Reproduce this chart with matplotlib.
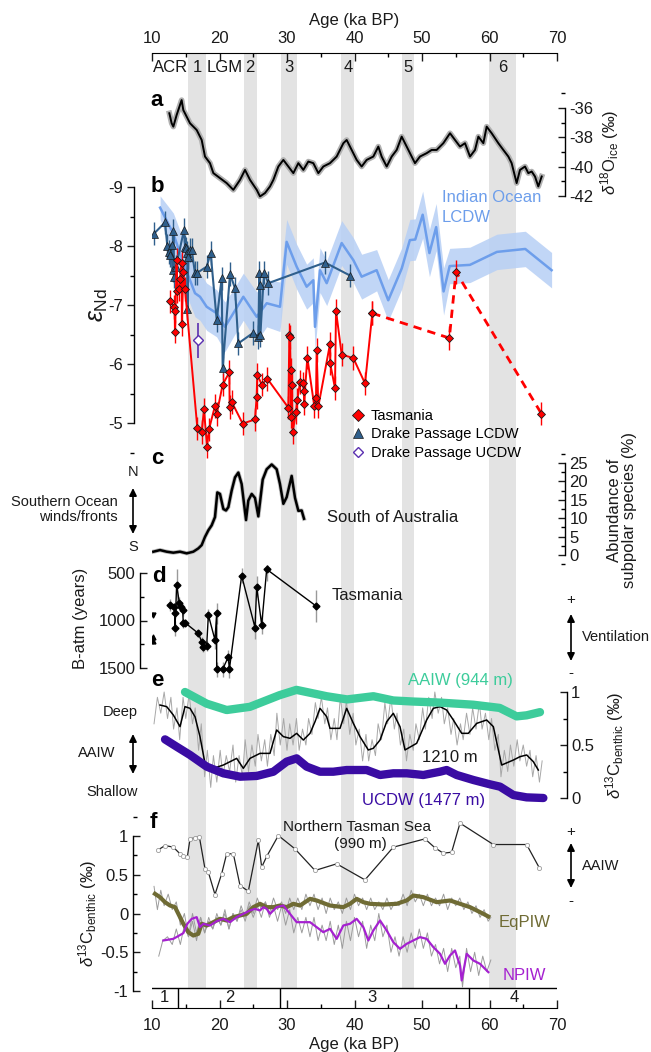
import matplotlib
matplotlib.use('Agg')
import matplotlib.pyplot as plt
from matplotlib.ticker import MultipleLocator, FuncFormatter
from matplotlib.lines import Line2D

plt.rcParams['font.family'] = ['Liberation Sans', 'DejaVu Sans']
plt.rcParams['mathtext.fontset'] = 'custom'
plt.rcParams['mathtext.rm'] = 'Liberation Sans'
plt.rcParams['mathtext.it'] = 'Liberation Sans:italic'
plt.rcParams['mathtext.bf'] = 'Liberation Sans:bold'
plt.rcParams['axes.unicode_minus'] = False

# ---------------- DATA ----------------
bands = [(15.3, 18.0), (23.6, 25.6), (29.1, 31.5), (38.0, 39.9), (47.0, 48.8), (59.9, 63.9)]
band_labels = ['ACR', '1', 'LGM', '2', '3', '4', '5', '6']
band_label_ages = [12.8, 16.7, 20.7, 24.5, 30.3, 39.0, 47.9, 61.9]
stage_bounds = [13.85, 28.9, 57.0]
stage_labels = ['1', '2', '3', '4']
stage_label_ages = [11.9, 21.5, 42.6, 63.6]

# (a) ice core d18O
a_age = [12.57, 12.91, 13.16, 13.65, 14.39, 14.64, 15.63, 16.62, 17.36, 17.85, 18.59, 19.09, 20.07, 21.06,
         22.05, 23.04, 23.78, 24.52, 25.51, 26.0, 26.74, 27.48, 27.98, 28.72, 29.46, 30.2, 30.94, 31.68,
         32.42, 33.16, 33.9, 34.64, 35.38, 36.37, 37.36, 38.35, 38.84, 39.58, 40.32, 41.06, 41.8, 42.79,
         43.53, 44.02, 44.77, 45.51, 46.25, 46.99, 47.73, 48.47, 48.96, 49.7, 50.69, 51.43, 52.17, 53.16,
         54.15, 54.89, 55.63, 56.37, 57.11, 57.85, 58.35, 59.09, 59.58, 60.32, 61.31, 62.05, 62.79, 63.28,
         64.02, 64.52, 65.26, 65.75, 66.25, 66.74, 67.23, 67.73]
a_d18o = [-36.36, -37.04, -37.27, -36.48, -35.46, -36.14, -37.04, -37.50, -38.18, -39.31, -39.76, -40.44,
          -40.78, -41.12, -41.58, -40.90, -40.22, -40.90, -41.58, -42.03, -41.80, -41.35, -40.90, -39.99,
          -39.54, -39.99, -40.44, -39.76, -40.22, -39.65, -39.76, -40.44, -39.99, -39.76, -39.31, -38.40,
          -38.18, -38.86, -39.54, -39.99, -39.54, -39.31, -38.63, -39.31, -39.99, -39.31, -38.86, -37.95,
          -38.63, -39.31, -39.76, -39.31, -39.08, -38.86, -38.86, -38.40, -37.72, -38.18, -38.63, -38.40,
          -39.31, -38.86, -37.95, -38.40, -37.27, -37.72, -38.40, -38.86, -39.31, -39.76, -41.12, -40.22,
          -39.99, -40.44, -40.33, -40.67, -41.35, -40.67]

# (b) eNd
io_age = [11.2, 13.16, 14.64, 15.63, 16.37, 17.11, 18.10, 19.58, 20.81, 22.05, 23.53, 25.51, 26.99, 28.96,
          29.95, 31.43, 32.91, 33.9, 34.15, 34.89, 35.88, 38.10, 39.83, 41.06, 43.28, 45.0, 47.0, 48.2,
          49.0, 50.1, 51.1, 52.1, 53.2, 54.1, 57.1, 61.1, 65.3, 69.2]
io_end = [-8.65, -8.21, -7.71, -7.42, -7.20, -7.14, -6.97, -6.86, -6.63, -6.86, -7.14, -6.80, -7.03, -6.97,
          -8.07, -7.65, -7.31, -7.42, -6.63, -7.59, -7.37, -8.05, -7.76, -7.48, -7.59, -7.08, -7.62, -8.10,
          -8.11, -8.53, -7.88, -8.32, -7.23, -7.66, -7.68, -7.90, -7.95, -7.59]
io_unc = [0.2, 0.35, 0.4, 0.4, 0.4, 0.4, 0.4, 0.4, 0.42, 0.4, 0.4, 0.42, 0.4, 0.42, 0.38, 0.38, 0.38, 0.38,
          0.4, 0.38, 0.38, 0.38, 0.38, 0.38, 0.35, 0.35, 0.35, 0.35, 0.35, 0.4, 0.4, 0.4, 0.4, 0.3, 0.3,
          0.3, 0.3, 0.3]

dl_age = [10.30, 11.93, 12.27, 12.47, 12.67, 12.91, 13.06, 13.16, 13.31, 13.56, 14.74, 14.89, 15.04, 15.23,
          15.25, 15.38, 15.63, 15.88, 16.37, 16.62, 18.10, 18.69, 19.58, 20.32, 20.47, 21.56, 22.30, 22.79,
          25.01, 25.75, 25.90, 26.00, 26.05, 26.59, 27.23, 35.63, 39.33]
dl_end = [-8.21, -8.40, -8.00, -7.90, -7.85, -8.02, -7.59, -8.25, -7.48, -7.65, -8.27, -7.99, -7.96, -7.88,
          -6.94, -7.81, -7.93, -7.93, -7.54, -7.54, -7.65, -7.88, -6.75, -7.45, -5.93, -7.53, -7.28, -6.35,
          -6.53, -6.46, -7.54, -7.34, -6.49, -7.55, -7.37, -7.72, -7.50]

tas_age = [12.67, 13.31, 13.36, 13.40, 13.65, 13.75, 13.95, 14.15, 14.40, 14.42, 14.64, 14.89, 16.72,
           17.36, 17.70, 18.15, 18.44, 19.33, 19.58, 20.47, 21.46, 21.50, 21.80, 23.43, 25.26, 25.50, 25.60,
           26.25, 27.09, 30.20, 30.35, 30.44, 30.54, 30.55, 30.74, 30.84, 31.33, 31.53, 31.93, 32.32, 32.52,
           32.53, 33.01, 34.05, 34.30, 34.39, 34.64, 36.37, 36.40, 37.11, 37.26, 38.10, 39.83, 41.56, 42.64]
tas_end = [-7.06, -6.97, -6.89, -6.55, -7.76, -7.24, -7.27, -7.44, -7.71, -6.68, -7.56, -7.27, -4.91, -4.85,
           -5.23, -4.60, -4.89, -5.29, -5.15, -5.65, -5.86, -5.27, -5.36, -4.99, -5.06, -5.44, -5.82, -5.65,
           -5.75, -5.26, -6.49, -6.46, -5.90, -5.11, -5.64, -4.85, -5.18, -5.39, -5.69, -5.67, -5.55, -5.33,
           -6.11, -5.28, -5.43, -6.24, -5.28, -6.34, -6.01, -5.59, -6.90, -6.16, -6.10, -5.67, -6.86]
tas_old_age = [42.64, 54.05, 55.04, 67.68]
tas_old_end = [-6.86, -6.44, -7.56, -5.16]
ucdw_age = [16.86]
ucdw_end = [-6.40]

# (c) subpolar species abundance
c_age = [10.2, 11.19, 12.17, 13.16, 14.15, 15.14, 16.12, 16.86, 17.36, 17.85, 18.35, 18.84, 19.33, 19.68,
         20.07, 20.57, 20.96, 21.31, 21.8, 22.3, 22.79, 23.28, 23.93, 24.27, 24.77, 25.26, 25.75, 26.4,
         26.99, 27.73, 28.47, 28.96, 29.46, 29.95, 30.69, 31.19, 31.68, 32.17, 32.52]
c_abund = [0.9, 1.34, 0.9, 0.63, 0.9, 0.45, 0.9, 1.79, 2.69, 4.93, 6.72, 8.06, 10.3, 17.0, 16.6, 12.5, 12.1,
           13.0, 17.5, 21.1, 22.4, 19.3, 9.5, 14.8, 16.6, 15.5, 10.5, 20.5, 23.3, 24.6, 23.3, 19.3, 13.9,
           15.7, 21.5, 15.5, 12.0, 12.1, 9.86]

# (d) B-atm Tasmania
d_age = [12.67, 13.31, 13.41, 13.41, 13.65, 14.05, 14.25, 14.54, 14.64, 14.89, 16.86, 17.36, 17.60, 18.10,
         18.35, 19.33, 19.58, 19.58, 20.47, 21.31, 21.46, 23.28, 25.26, 25.51, 26.25, 26.99, 34.30]
d_batm = [837, 855, 924, 1082, 626, 812, 855, 889, 1030, 1023, 1135, 1223, 1276, 1268, 942, 1205, 924, 1514,
          1514, 1381, 1514, 528, 1075, 644, 1047, 461, 847]
d_err = [60, 40, 50, 80, 170, 60, 50, 60, 50, 40, 40, 50, 60, 50, 60, 100, 110, 80, 80, 70, 90, 80, 120,
         110, 100, 120, 170]
d_other_age = [10.1, 10.1, 10.1]
d_other = [942, 1170, 1218]

# (e) d13C benthic
aaiw_age = [14.89, 18.1, 21.06, 24.5, 28.9, 31.4, 35.88, 38.9, 42.8, 45.75, 48.7, 52.67, 57.6, 61.5, 64.02,
            65.5, 67.48]
aaiw_d13c = [1.00, 0.89, 0.83, 0.86, 0.97, 1.02, 0.96, 0.93, 0.96, 0.92, 0.91, 0.90, 0.88, 0.85, 0.77, 0.78,
             0.81]
ucdwe_age = [11.93, 13.65, 15.63, 18.1, 20.57, 23.04, 25.51, 27.98, 29.95, 31.43, 32.91, 34.89, 36.86,
             38.84, 41.8, 43.78, 45.75, 47.73, 50.2, 52.67, 53.65, 55.14, 57.6, 60.07, 61.56, 63.53, 65.5, 67.98]
ucdwe_d13c = [0.553, 0.484, 0.406, 0.296, 0.233, 0.201, 0.208, 0.248, 0.343, 0.374, 0.296, 0.248, 0.248,
              0.264, 0.264, 0.217, 0.233, 0.233, 0.217, 0.248, 0.264, 0.217, 0.170, 0.129, 0.107, 0.028,
              0.006, 0.0]
m1210_age = [11.19, 12.17, 13.16, 14.15, 14.89, 15.63, 16.37, 17.11, 17.85, 19.09, 20.57, 22.05, 22.54, 23.53,
             24.52, 26.0, 27.48, 28.47, 29.46, 30.44, 31.43, 32.42, 33.41, 34.15, 34.89, 35.88, 36.37, 37.85,
             38.84, 39.83, 40.81, 42.05, 42.79, 43.78, 44.77, 45.75, 46.74, 47.48, 49.21, 50.69, 51.68, 52.67,
             53.65, 54.64, 55.88, 56.86, 58.1, 59.58, 60.57, 61.8, 63.53, 64.52, 65.51, 66.49, 67.23]
m1210_d13c = [0.877, 0.862, 0.783, 0.673, 0.862, 0.846, 0.767, 0.579, 0.327, 0.280, 0.311, 0.358, 0.374,
              0.280, 0.374, 0.421, 0.421, 0.642, 0.579, 0.563, 0.610, 0.547, 0.610, 0.720, 0.846, 0.767,
              0.657, 0.657, 0.846, 0.704, 0.579, 0.453, 0.469, 0.547, 0.720, 0.799, 0.673, 0.453, 0.516,
              0.736, 0.846, 0.862, 0.830, 0.736, 0.610, 0.610, 0.704, 0.736, 0.673, 0.311, 0.358, 0.390,
              0.406, 0.343, 0.264]
raw1210_age = [10.3, 10.8, 11.3, 11.8, 12.3, 12.8, 13.2, 13.7, 14.1, 14.6, 15.0, 15.5, 16.0, 16.4, 16.9, 17.3,
               17.8, 18.2, 18.7, 19.1, 19.6, 20.1, 20.5, 21.0, 21.5, 22.0, 22.4, 22.9, 23.4, 23.8, 24.3, 24.8,
               25.3, 25.7, 26.2, 26.7, 27.1, 27.6, 28.1, 28.5, 29.0, 29.5, 30.0, 30.4, 30.9, 31.4, 31.8, 32.3,
               32.8, 33.2, 33.7, 34.2, 34.6, 35.1, 35.6, 36.0, 36.5, 37.0, 37.4, 37.9, 38.4, 38.8, 39.3, 39.8,
               40.2, 40.7, 41.2, 41.7, 42.1, 42.6, 43.1, 43.5, 44.0, 44.5, 44.9, 45.4, 45.9, 46.3, 46.8, 47.3,
               47.7, 48.2, 48.7, 49.1, 49.6, 50.1, 50.5, 51.0, 51.5, 51.9, 52.4, 52.9, 53.3, 53.8, 54.3, 54.7,
               55.2, 55.7, 56.1, 56.6, 57.1, 57.5, 58.0, 58.5, 58.9, 59.4, 59.9, 60.3, 60.8, 61.3, 61.7, 62.2,
               62.7, 63.1, 63.6, 64.1, 64.5, 65.0, 65.5, 66.0, 66.4, 66.9, 67.4, 67.8]
raw1210_d13c = [0.70, 0.95, 0.80, 1.00, 0.75, 0.95, 0.65, 0.85, 0.55, 0.95, 0.75, 0.98, 0.70, 0.85, 0.45,
                0.70, 0.20, 0.45, 0.10, 0.40, 0.15, 0.45, 0.20, 0.40, 0.25, 0.50, 0.15, 0.40, 0.20, 0.55,
                0.25, 0.50, 0.30, 0.60, 0.35, 0.55, 0.30, 0.60, 0.40, 0.80, 0.50, 0.75, 0.45, 0.70, 0.50,
                0.75, 0.45, 0.65, 0.50, 0.75, 0.60, 0.90, 0.75, 0.95, 0.70, 0.85, 0.55, 0.75, 0.55, 0.95,
                0.70, 0.92, 0.60, 0.80, 0.50, 0.65, 0.35, 0.60, 0.35, 0.55, 0.40, 0.70, 0.55, 0.90, 0.70,
                0.95, 0.65, 0.80, 0.50, 0.65, 0.35, 0.60, 0.45, 0.70, 0.55, 0.85, 0.65, 0.95, 0.75, 1.00,
                0.80, 0.95, 0.70, 0.85, 0.60, 0.75, 0.50, 0.70, 0.55, 0.80, 0.60, 0.85, 0.65, 0.90, 0.65,
                0.80, 0.55, 0.75, 0.45, 0.60, 0.20, 0.45, 0.25, 0.50, 0.30, 0.55, 0.35, 0.50, 0.30, 0.45,
                0.20, 0.40, 0.15, 0.35]

# (f) Pacific d13C
nts_age = [10.94, 11.93, 13.16, 14.15, 14.64, 15.23, 15.63, 16.37, 17.01, 17.85, 18.35, 19.33, 20.32, 21.06,
           22.05, 23.04, 24.27, 25.75, 26.25, 26.99, 28.72, 31.18, 34.15, 37.36, 41.55, 45.75, 50.44, 51.93,
           53.16, 54.39, 55.63, 60.57, 65.5, 67.38]
nts_d13c = [0.822, 0.877, 0.856, 0.770, 0.736, 0.727, 0.963, 0.976, 0.993, 0.576, 0.533, 0.245, 0.512, 0.770,
            0.770, 0.361, 0.288, 0.942, 0.598, 0.736, 1.006, 0.834, 0.555, 0.641, 0.434, 0.856, 0.963, 0.847,
            0.778, 0.791, 1.166, 0.890, 0.890, 0.589]
eq_age = [10.44, 11.18, 11.93, 12.67, 13.41, 14.15, 14.64, 15.38, 16.12, 16.86, 17.36, 18.1, 19.09, 20.07,
          21.06, 22.05, 23.04, 24.02, 25.01, 26.0, 26.99, 27.97, 28.96, 29.95, 30.94, 31.93, 33.41, 34.39,
          36.37, 38.34, 39.33, 40.32, 41.31, 42.3, 44.27, 46.25, 47.73, 48.71, 50.2, 52.17, 54.15, 55.63,
          57.11, 58.1, 59.08, 59.83]
eq_d13c = [0.254, 0.211, 0.146, 0.103, 0.082, -0.047, -0.133, -0.241, -0.284, -0.262, -0.133, -0.155, -0.112,
           -0.069, -0.090, -0.047, -0.026, -0.004, 0.082, 0.125, 0.082, 0.082, 0.103, 0.082, 0.125, 0.103,
           0.189, 0.168, 0.103, 0.082, 0.125, 0.189, 0.146, 0.125, 0.116, 0.125, 0.168, 0.232, 0.211, 0.146,
           0.168, 0.125, 0.082, 0.039, -0.004, -0.039]
eq_raw_age = [10.3, 10.8, 11.3, 11.8, 12.4, 13.0, 13.6, 14.2, 14.8, 15.4, 16.0, 16.6, 17.2, 17.8, 18.4, 19.0,
              19.6, 20.2, 20.8, 21.4, 22.0, 22.6, 23.2, 23.8, 24.4, 25.0, 25.6, 26.2, 26.8, 27.4, 28.0, 28.6,
              29.2, 29.8, 30.4, 31.0, 31.6, 32.2, 32.8, 33.4, 34.0, 34.6, 35.2, 35.8, 36.4, 37.0, 37.6, 38.2,
              38.8, 39.4, 40.0, 40.6, 41.2, 41.8, 42.4, 43.0, 43.6, 44.2, 44.8, 45.4, 46.0, 46.6, 47.2, 47.8,
              48.4, 49.0, 49.6, 50.2, 50.8, 51.4, 52.0, 52.6, 53.2, 53.8, 54.4, 55.0, 55.6, 56.2, 56.8, 57.4,
              58.0, 58.6, 59.2, 59.8, 60.2]
eq_raw_d13c = [0.35, 0.05, 0.30, 0.10, 0.25, 0.05, 0.15, -0.15, 0.0, -0.30, -0.10, -0.35, -0.05, -0.25,
               -0.05, -0.20, 0.0, -0.15, 0.05, -0.20, 0.0, -0.10, 0.10, -0.05, 0.15, 0.0, 0.20, 0.05, 0.15,
               0.0, 0.20, 0.05, 0.15, 0.0, 0.20, 0.05, 0.20, 0.05, 0.25, 0.10, 0.25, 0.05, 0.20, 0.0, 0.20,
               0.05, 0.15, 0.0, 0.20, 0.05, 0.25, 0.10, 0.20, 0.05, 0.20, 0.05, 0.15, 0.05, 0.20, 0.05, 0.15,
               0.10, 0.25, 0.10, 0.30, 0.15, 0.25, 0.10, 0.25, 0.10, 0.20, 0.10, 0.25, 0.05, 0.20, 0.10,
               0.20, 0.05, 0.15, 0.0, 0.10, -0.05, 0.05, -0.10, -0.05]
np_age = [11.68, 13.16, 14.64, 15.23, 15.88, 16.62, 17.11, 17.6, 18.59, 19.58, 20.57, 21.55, 22.54, 23.53,
          24.52, 25.26, 26.0, 26.49, 26.99, 27.48, 28.47, 29.46, 30.44, 31.43, 32.42, 33.41, 34.39, 35.38,
          36.37, 37.36, 38.34, 39.33, 40.32, 41.31, 42.05, 42.79, 43.78, 44.77, 45.75, 46.74, 47.73, 48.71,
          49.7, 50.69, 51.68, 52.67, 53.41, 54.15, 54.89, 55.63, 55.88, 56.62, 57.6, 58.59, 59.83]
np_d13c = [-0.348, -0.327, -0.254, -0.133, -0.069, -0.047, -0.176, -0.133, -0.155, -0.099, -0.069, -0.112,
           -0.047, -0.004, 0.039, 0.060, 0.039, 0.082, 0.060, -0.004, 0.082, 0.103, -0.004, -0.112, -0.112,
           -0.112, -0.176, -0.241, -0.198, -0.327, -0.155, -0.133, -0.069, -0.176, -0.348, -0.219, -0.090,
           -0.219, -0.370, -0.456, -0.391, -0.348, -0.305, -0.327, -0.434, -0.520, -0.649, -0.542, -0.477,
           -0.671, -0.864, -0.520, -0.606, -0.649, -0.757]
np_raw_age = [11.0, 11.6, 12.3, 13.0, 13.6, 14.2, 14.8, 15.4, 16.0, 16.6, 17.2, 17.8, 18.4, 19.0, 19.6, 20.2,
              20.8, 21.4, 22.0, 22.6, 23.2, 23.8, 24.4, 25.0, 25.6, 26.2, 26.8, 27.4, 28.0, 28.6, 29.2, 29.8,
              30.4, 31.0, 31.6, 32.2, 32.8, 33.4, 34.0, 34.6, 35.2, 35.8, 36.4, 37.0, 37.6, 38.2, 38.8, 39.4,
              40.0, 40.6, 41.2, 41.8, 42.4, 43.0, 43.6, 44.2, 44.8, 45.4, 46.0, 46.6, 47.2, 47.8, 48.4, 49.0,
              49.6, 50.2, 50.8, 51.4, 52.0, 52.6, 53.2, 53.8, 54.4, 55.0, 55.6, 56.0, 56.6, 57.2, 57.8, 58.4,
              59.0, 59.6, 60.2]
np_raw_d13c = [-0.55, -0.35, -0.30, -0.40, -0.20, -0.40, -0.15, -0.30, 0.0, -0.25, -0.05, -0.25, -0.10,
               -0.20, -0.05, -0.15, 0.0, -0.20, 0.0, -0.10, 0.05, -0.10, 0.10, -0.05, 0.10, -0.05, 0.15,
               -0.05, 0.10, -0.10, 0.10, -0.15, 0.05, -0.25, -0.05, -0.25, -0.05, -0.30, -0.05, -0.35,
               -0.15, -0.35, -0.10, -0.40, -0.15, -0.45, -0.10, -0.35, -0.05, -0.30, -0.10, -0.45, -0.15,
               -0.35, 0.0, -0.30, -0.15, -0.50, -0.30, -0.55, -0.30, -0.50, -0.25, -0.45, -0.20, -0.45,
               -0.25, -0.55, -0.40, -0.65, -0.45, -0.75, -0.45, -0.70, -0.55, -0.95, -0.45, -0.75, -0.50,
               -0.80, -0.55, -0.75, -0.60]

# ---------------- STYLE / LAYOUT ----------------
W, H = 651, 1052
fig = plt.figure(figsize=(W / 100, H / 100), dpi=100)
X0, X1 = 152, 557
AX_TOP, AX_BOT, BOX_TOP = 53, 1008, 988
TEXT = '#1a1a1a'

def fx(px):
    return px / W

def fy(py):
    return 1 - py / H

fmt = FuncFormatter(lambda v, p: f'{v:g}')

def panel(top, bot, v1, p1, v2, p2):
    ax = fig.add_axes([fx(X0), fy(bot), (X1 - X0) / W, (bot - top) / H])
    s = (p2 - p1) / (v2 - v1)
    ax.set_ylim(v1 + (bot - p1) / s, v1 + (top - p1) / s)
    ax.set_xlim(10, 70)
    ax.patch.set_alpha(0)
    for sp in ax.spines.values():
        sp.set_visible(False)
    ax.set_xticks([])
    return ax

def yaxis_style(ax, side, offset, lo, hi, major, minor, direction):
    sp = ax.spines[side]
    sp.set_visible(True)
    sp.set_position(('outward', offset))
    sp.set_bounds(lo, hi)
    sp.set_linewidth(1.0)
    if side == 'right':
        ax.yaxis.tick_right()
    else:
        ax.yaxis.tick_left()
    ax.yaxis.set_major_locator(MultipleLocator(major))
    ax.yaxis.set_minor_locator(MultipleLocator(minor))
    ax.yaxis.set_major_formatter(fmt)
    ax.tick_params(axis='y', which='major', direction=direction, length=5, width=1, labelsize=12,
                   pad=3, colors=TEXT)
    ax.tick_params(axis='y', which='minor', direction=direction, length=3, width=1)
    ticks = [t for t in ax.get_yticks() if lo - 1e-9 <= t <= hi + 1e-9]
    ax.set_yticks(ticks)

# background axis with bands, top and bottom age axes
bg = fig.add_axes([fx(X0), fy(AX_BOT), (X1 - X0) / W, (AX_BOT - AX_TOP) / H])
bg.set_xlim(10, 70)
bg.set_ylim(0, 1)
bg.set_yticks([])
for s in ['left', 'right', 'top']:
    bg.spines[s].set_visible(False)
box_frac = (AX_BOT - BOX_TOP) / (AX_BOT - AX_TOP)
for b0, b1 in bands:
    bg.axvspan(b0, b1, ymin=box_frac, ymax=1, color='#e3e3e3', lw=0, zorder=0)
bg.xaxis.set_major_locator(MultipleLocator(10))
bg.xaxis.set_minor_locator(MultipleLocator(5))
bg.tick_params(axis='x', which='major', direction='in', length=6, width=1, labelsize=12, pad=7, colors=TEXT)
bg.tick_params(axis='x', which='minor', direction='in', length=3, width=1)
bg.set_xlabel('Age (ka BP)', fontsize=12, labelpad=3, color=TEXT)
bg.axhline(box_frac, color='black', lw=1)
bg.vlines(stage_bounds, 0, box_frac, color='black', lw=1)
for lab, a in zip(stage_labels, stage_label_ages):
    bg.text(a, box_frac / 2, lab, ha='center', va='center', fontsize=12, color=TEXT)
for lab, a in zip(band_labels, band_label_ages):
    bg.text(a, (AX_BOT - 68) / (AX_BOT - AX_TOP), lab, ha='center', va='center', fontsize=12, color=TEXT)
sec = bg.secondary_xaxis('top')
sec.xaxis.set_major_locator(MultipleLocator(10))
sec.xaxis.set_minor_locator(MultipleLocator(5))
sec.tick_params(axis='x', which='major', direction='in', length=6, width=1, labelsize=12, pad=5, colors=TEXT)
sec.tick_params(axis='x', which='minor', direction='in', length=3, width=1)
sec.set_xlabel('Age (ka BP)', fontsize=12, labelpad=4, color=TEXT)

# (a)
axa = panel(88, 205, -36, 108, -42, 196)
axa.plot(a_age, a_d18o, color='#b0b0b0', lw=4.0, solid_joinstyle='round')
axa.plot(a_age, a_d18o, color='black', lw=1.4)
yaxis_style(axa, 'right', 6, -42, -36, 2, 1, 'in')

# (b)
axb = panel(178, 460, -9, 187, -5, 423)
lo = [v - u for v, u in zip(io_end, io_unc)]
hi = [v + u for v, u in zip(io_end, io_unc)]
axb.fill_between(io_age, lo, hi, color='#b7cff5', lw=0, alpha=0.85)
axb.plot(io_age, io_end, color='#6d9eeb', lw=1.8)
axb.errorbar(dl_age, dl_end, yerr=0.2, color='#2f5f8c', lw=1.5, elinewidth=1.0, marker='^', ms=6,
             mfc='#2f5f8c', mec='#1a1a1a', mew=0.5, capsize=0)
axb.plot(tas_old_age, tas_old_end, color='#ff0000', lw=2, ls=(0, (3, 2.2)))
axb.errorbar(tas_old_age, tas_old_end, yerr=0.2, color='#ff0000', ls='none', elinewidth=1.0, marker='D',
             ms=4.5, mfc='#ff0000', mec='#1a1a1a', mew=0.6, capsize=0)
axb.errorbar(tas_age, tas_end, yerr=0.2, color='#ff0000', lw=1.4, elinewidth=1.0, marker='D', ms=4.5,
             mfc='#ff0000', mec='#1a1a1a', mew=0.6, capsize=0)
axb.errorbar(ucdw_age, ucdw_end, yerr=0.3, color='#5a2fb0', ls='none', elinewidth=1.2, marker='D', ms=5,
             mfc='white', mec='#5a2fb0', mew=1.0, capsize=0)
yaxis_style(axb, 'left', 13, -9, -5, 1, 0.5, 'out')

# (c)
axc = panel(450, 565, 0, 555, 25, 463)
axc.plot(c_age, c_abund, color='#bdbdbd', lw=3.0)
axc.plot(c_age, c_abund, color='black', lw=1.8)
yaxis_style(axc, 'right', 6, 0, 25, 5, 2.5, 'in')

# (d)
axd = panel(565, 690, 500, 573, 1500, 668)
axd.errorbar(d_age, d_batm, yerr=d_err, fmt='none', ecolor='#9a9a9a', elinewidth=1.0)
axd.plot(d_age, d_batm, color='black', lw=1.0, marker='D', ms=3.5, mfc='black', mec='black')
axd.errorbar(d_other_age[:1], d_other[:1], yerr=30, fmt='v', ms=3.5, color='black', elinewidth=0.6,
             ecolor='#777777')
axd.errorbar(d_other_age[1:], d_other[1:], yerr=30, fmt='^', ms=3.5, color='black', elinewidth=0.6,
             ecolor='#777777')
yaxis_style(axd, 'left', 9, 500, 1500, 500, 250, 'in')

# (e)
axe = panel(672, 815, 0, 798, 1, 692)
axe.plot(raw1210_age, raw1210_d13c, color='#a8a8a8', lw=0.7)
axe.plot(m1210_age, m1210_d13c, color='black', lw=1.1)
axe.plot(aaiw_age, aaiw_d13c, color='#3dcc9b', lw=6, solid_capstyle='round')
axe.plot(ucdwe_age, ucdwe_d13c, color='#3a0ca3', lw=6, solid_capstyle='round')
yaxis_style(axe, 'right', 7, 0, 1, 0.5, 0.25, 'in')

# (f)
axf = panel(815, 995, 1, 836, -1, 991)
axf.plot(eq_raw_age, eq_raw_d13c, color='#9c9c9c', lw=0.7)
axf.plot(np_raw_age, np_raw_d13c, color='#9c9c9c', lw=0.7)
axf.plot(nts_age, nts_d13c, color='#222222', lw=0.9, marker='o', ms=3, mfc='white', mec='#9a9a9a', mew=0.6)
axf.plot(eq_age, eq_d13c, color='#6f6b34', lw=3.0)
axf.plot(np_age, np_d13c, color='#a521d0', lw=1.6)
yaxis_style(axf, 'left', 14, -1, 1, 0.5, 0.25, 'in')

# ---------------- TEXT ----------------
def ftext(px, py, s, **kw):
    kw.setdefault('color', TEXT)
    fig.text(fx(px), fy(py), s, **kw)

for lab, px, py in [('a', 157, 100), ('b', 157, 187), ('c', 157, 458), ('d', 159, 577), ('e', 157, 680),
                    ('f', 153, 822)]:
    ftext(px, py, lab, fontsize=16, fontweight='bold', ha='center', va='center', color='black')

ftext(610, 152, r'$\delta^{18}$O$_{\rm ice}$ (‰)', fontsize=12, rotation=90, ha='center', va='center')
ftext(98, 305, r'$\varepsilon_{\rm Nd}$', fontsize=18, rotation=90, ha='center', va='center')
ftext(622, 510, 'Abundance of\nsubpolar species (%)', fontsize=12, rotation=90, ha='center', va='center',
      linespacing=1.0)
ftext(80, 618, 'B-atm (years)', fontsize=12, rotation=90, ha='center', va='center')
ftext(615, 745, r'$\delta^{13}$C$_{\rm benthic}$ (‰)', fontsize=12, rotation=90, ha='center', va='center')
ftext(88, 913, r'$\delta^{13}$C$_{\rm benthic}$ (‰)', fontsize=12, rotation=90, ha='center', va='center')

ftext(442, 198, 'Indian Ocean', fontsize=12, color='#6d9eeb', ha='left', va='center')
ftext(442, 217, 'LCDW', fontsize=12, color='#6d9eeb', ha='left', va='center')
ftext(327, 518, 'South of Australia', fontsize=12, ha='left', va='center')
ftext(332, 596, 'Tasmania', fontsize=12, ha='left', va='center')
ftext(408, 680, 'AAIW (944 m)', fontsize=12, color='#3dcc9b', ha='left', va='center')
ftext(450, 758, '1210 m', fontsize=12, ha='center', va='center')
ftext(362, 801, 'UCDW (1477 m)', fontsize=12, color='#3a0ca3', ha='left', va='center')
ftext(357, 827, 'Northern Tasman Sea', fontsize=11, ha='center', va='center')
ftext(360, 844, '(990 m)', fontsize=11, ha='center', va='center')
ftext(499, 923, 'EqPIW', fontsize=12, color='#6f6b34', ha='left', va='center')
ftext(503, 975, 'NPIW', fontsize=12, color='#a521d0', ha='left', va='center')

# left annotations
ftext(133, 472, 'N', fontsize=10.5, ha='center', va='center')
ftext(133, 547, 'S', fontsize=10.5, ha='center', va='center')
ftext(118, 502, 'Southern Ocean', fontsize=10.5, ha='right', va='center')
ftext(118, 517, 'winds/fronts', fontsize=10.5, ha='right', va='center')
ftext(138, 712, 'Deep', fontsize=10.5, ha='right', va='center')
ftext(115, 753, 'AAIW', fontsize=10.5, ha='right', va='center')
ftext(138, 792, 'Shallow', fontsize=10.5, ha='right', va='center')
# right annotations
ftext(571, 600, '+', fontsize=11, ha='center', va='center')
ftext(571, 673, '-', fontsize=11, ha='center', va='center')
ftext(582, 637, 'Ventilation', fontsize=10.5, ha='left', va='center')
ftext(571, 832, '+', fontsize=11, ha='center', va='center')
ftext(571, 901, '-', fontsize=11, ha='center', va='center')
ftext(582, 866, 'AAIW', fontsize=10.5, ha='left', va='center')

arrow_kw = dict(arrowstyle='<|-|>,head_length=0.45,head_width=0.22', lw=1.2, color='black',
                shrinkA=0, shrinkB=0)
for (xa, ya0, ya1) in [(133, 488, 534), (133, 734, 774), (571, 614, 661), (571, 843, 888)]:
    bg.annotate('', xy=(fx(xa), fy(ya0)), xytext=(fx(xa), fy(ya1)), xycoords='figure fraction',
                textcoords='figure fraction', arrowprops=arrow_kw, annotation_clip=False)

# legend
handles = [Line2D([], [], ls='none', marker='D', ms=6, mfc='#ff0000', mec='#1a1a1a', mew=0.6),
           Line2D([], [], ls='none', marker='^', ms=7, mfc='#2f5f8c', mec='#1a1a1a', mew=0.5),
           Line2D([], [], ls='none', marker='D', ms=5.5, mfc='white', mec='#5a2fb0', mew=1.0)]
fig.legend(handles, ['Tasmania', 'Drake Passage LCDW', 'Drake Passage UCDW'], loc='upper left',
           bbox_to_anchor=(fx(351), fy(409)), frameon=False, fontsize=10.5, handlelength=1.0,
           handletextpad=0.35, labelspacing=0.3, borderpad=0, borderaxespad=0)

fig.savefig('out.png', dpi=100)
